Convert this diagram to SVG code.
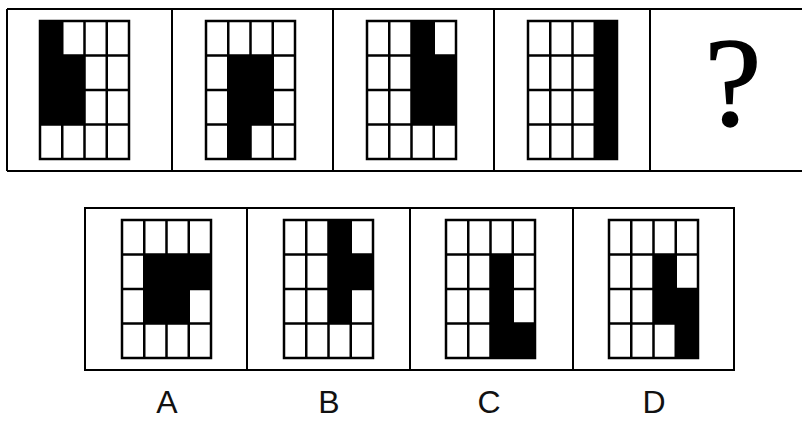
<svg xmlns="http://www.w3.org/2000/svg" xmlns:xlink="http://www.w3.org/1999/xlink" width="802" height="422" viewBox="0 0 802 422">
<style>
.frame{fill:none;stroke:#000;stroke-width:2}
.gl{fill:none;stroke:#000;stroke-width:2.5}
.blk{fill:#000}
.lbl{font-family:"Liberation Sans","DejaVu Sans",sans-serif;font-size:32px;fill:#111;text-anchor:middle}
.q{font-family:"Liberation Serif","DejaVu Serif",serif;font-size:128px;fill:#000;stroke:#000;stroke-width:1.5;text-anchor:middle}
</style>
<defs>
<g id="grid">
<rect class="gl" x="0" y="0" width="89" height="138"/>
<path class="gl" d="M22.25 0V138M44.5 0V138M66.75 0V138M0 34.5H89M0 69H89M0 103.5H89"/>
</g>
</defs>
<rect width="802" height="422" fill="#fff"/>
<g id="frames">
<path class="frame" d="M7 9H802M7 171H802M7 9V171M172 9V171M333 9V171M494 9V171M650 9V171"/>
<rect class="frame" x="85" y="208" width="649" height="162"/>
<path class="frame" d="M247 208V370M410 208V370M573 208V370"/>
</g>
<g id="p1" transform="translate(40,21)">
<rect class="blk" x="0" y="0" width="22.25" height="34.5"/>
<rect class="blk" x="0" y="34.5" width="44.5" height="69"/>
<use xlink:href="#grid"/>
</g>
<g id="p2" transform="translate(206,21)">
<rect class="blk" x="22.25" y="34.5" width="44.5" height="69"/>
<rect class="blk" x="22.25" y="103.5" width="22.25" height="34.5"/>
<use xlink:href="#grid"/>
</g>
<g id="p3" transform="translate(367,21)">
<rect class="blk" x="44.5" y="0" width="22.25" height="34.5"/>
<rect class="blk" x="44.5" y="34.5" width="44.5" height="69"/>
<use xlink:href="#grid"/>
</g>
<g id="p4" transform="translate(528,21)">
<rect class="blk" x="66.75" y="0" width="22.25" height="138"/>
<use xlink:href="#grid"/>
</g>
<g id="p5">
<text class="q" x="733" y="125">?</text>
</g>
<g id="optA" transform="translate(122,220)">
<rect class="blk" x="22.25" y="34.5" width="66.75" height="34.5"/>
<rect class="blk" x="22.25" y="69" width="44.5" height="34.5"/>
<use xlink:href="#grid"/>
</g>
<g id="optB" transform="translate(284,220)">
<rect class="blk" x="44.5" y="0" width="22.25" height="103.5"/>
<rect class="blk" x="66.75" y="34.5" width="22.25" height="34.5"/>
<use xlink:href="#grid"/>
</g>
<g id="optC" transform="translate(446,220)">
<rect class="blk" x="44.5" y="34.5" width="22.25" height="103.5"/>
<rect class="blk" x="66.75" y="103.5" width="22.25" height="34.5"/>
<use xlink:href="#grid"/>
</g>
<g id="optD" transform="translate(609,220)">
<rect class="blk" x="44.5" y="34.5" width="22.25" height="69"/>
<rect class="blk" x="66.75" y="69" width="22.25" height="69"/>
<use xlink:href="#grid"/>
</g>
<g id="labels">
<text class="lbl" x="167" y="413">A</text>
<text class="lbl" x="329" y="413">B</text>
<text class="lbl" x="489" y="413">C</text>
<text class="lbl" x="654" y="413">D</text>
</g>
</svg>
